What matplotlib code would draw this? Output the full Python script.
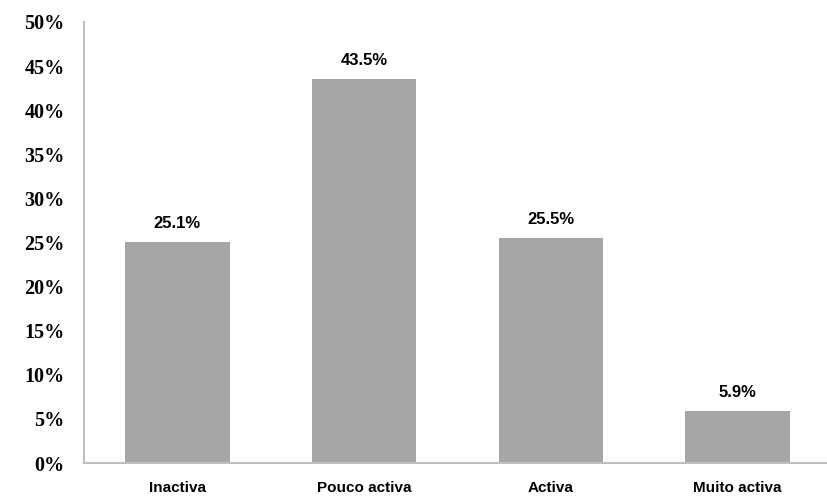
import matplotlib
matplotlib.use("Agg")
import matplotlib.pyplot as plt
from matplotlib.ticker import FuncFormatter

categories = ["Inactiva", "Pouco activa", "Activa", "Muito activa"]
values = [25.1, 43.5, 25.5, 5.9]
y_ticks = [0, 5, 10, 15, 20, 25, 30, 35, 40, 45, 50]

bar_color = "#a6a6a6"
spine_color = "#bfbfbf"

fig = plt.figure(figsize=(8.27, 4.98), dpi=100)
ax = fig.add_axes([84 / 827, 1 - 463 / 498, 747 / 827, 441 / 498])

x = range(len(categories))
bars = ax.bar(x, values, width=0.56, color=bar_color, zorder=2)

ax.set_xlim(-0.5, len(categories) - 0.5)
ax.set_ylim(0, 50)
ax.set_yticks(y_ticks)
ax.yaxis.set_major_formatter(FuncFormatter(lambda v, p: f"{v:.0f}%"))
ax.set_xticks(list(x))
ax.set_xticklabels(categories)

for s in ["top", "right"]:
    ax.spines[s].set_visible(False)
for s in ["left", "bottom"]:
    ax.spines[s].set_color(spine_color)
    ax.spines[s].set_linewidth(1.5)

ax.tick_params(axis="both", length=0)
ax.tick_params(axis="y", pad=14)
ax.tick_params(axis="x", pad=13)

for lab in ax.get_yticklabels():
    lab.set_fontfamily(["Liberation Serif", "DejaVu Serif"])
    lab.set_fontweight("bold")
    lab.set_fontsize(14.5)
for lab in ax.get_xticklabels():
    lab.set_fontfamily(["Liberation Sans Narrow", "Liberation Sans", "DejaVu Sans"])
    lab.set_fontweight("bold")
    lab.set_fontsize(11)

for rect, v in zip(bars, values):
    ax.annotate(f"{v:.1f}%", xy=(rect.get_x() + rect.get_width() / 2, v),
                xytext=(0, 8), textcoords="offset points",
                ha="center", va="bottom", fontsize=12, fontweight="bold",
                family=["Liberation Sans Narrow", "Liberation Sans", "DejaVu Sans"])

fig.savefig("out.png", dpi=100)
